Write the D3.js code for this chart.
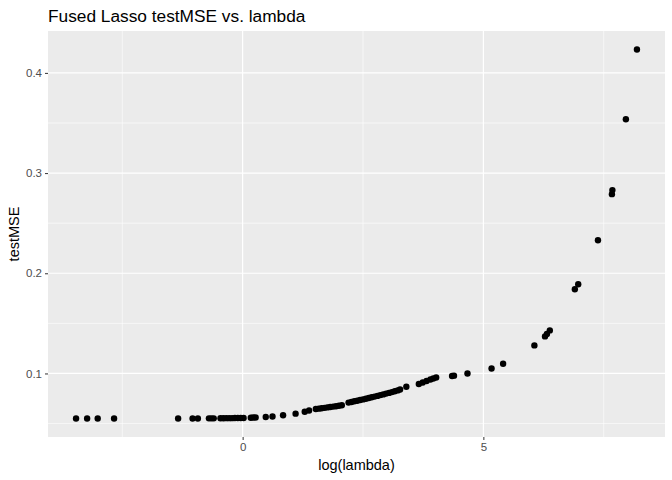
<!DOCTYPE html>
<html>
<head>
<meta charset="utf-8">
<script src="https://cdn.jsdelivr.net/npm/d3@7"></script>
<style>
  body { margin: 0; background: #fff; }
  text { font-family: "Liberation Sans", Arial, Helvetica, sans-serif; }
</style>
</head>
<body>
<svg id="chart" width="672" height="480"></svg>
<script>
// log(lambda) values
const logLambda = [
  -3.46, -3.23, -3.01, -2.67, -1.34, -1.04, -0.93, -0.70, -0.65, -0.60,
  -0.46, -0.40, -0.34, -0.28, -0.22, -0.16, -0.10, -0.04, 0.02, 0.17,
  0.22, 0.27, 0.48, 0.62, 0.84, 1.10, 1.29, 1.38,
  1.52, 1.58, 1.64, 1.70, 1.76, 1.82, 1.88, 1.94, 2.00, 2.06,
  2.20, 2.26, 2.32, 2.38, 2.44, 2.50, 2.56, 2.62, 2.68, 2.74,
  2.80, 2.86, 2.92, 2.98, 3.04, 3.10, 3.16, 3.22, 3.27, 3.40,
  3.66, 3.74, 3.82, 3.90, 3.96, 4.02, 4.35, 4.39, 4.67, 5.17,
  5.41, 6.06, 6.28, 6.32, 6.38, 6.90, 6.97, 7.38, 7.67, 7.68,
  7.96, 8.19
];
// testMSE for each point
const testMSE = [
  0.0550, 0.0550, 0.0550, 0.0550, 0.0550, 0.0551, 0.0551, 0.0552, 0.0552, 0.0552,
  0.0553, 0.0553, 0.0554, 0.0554, 0.0554, 0.0555, 0.0555, 0.0556, 0.0556, 0.0558,
  0.0560, 0.0561, 0.0565, 0.0570, 0.0583, 0.0599, 0.0618, 0.0630,
  0.0645, 0.0649, 0.0653, 0.0657, 0.0661, 0.0665, 0.0669, 0.0673, 0.0678, 0.0683,
  0.0709, 0.0715, 0.0722, 0.0728, 0.0735, 0.0741, 0.0748, 0.0755, 0.0762, 0.0769,
  0.0776, 0.0784, 0.0791, 0.0799, 0.0806, 0.0814, 0.0822, 0.0831, 0.0840, 0.0867,
  0.0895, 0.0910, 0.0925, 0.0940, 0.0950, 0.0960, 0.0975, 0.0978, 0.1000, 0.1050,
  0.1097, 0.1280, 0.1370, 0.1395, 0.1430, 0.1840, 0.1890, 0.2330, 0.2790, 0.2830,
  0.3537, 0.4234
];
const xTicks = [0, 5];
const xMinor = [-2.5, 2.5, 7.5];
const yTicks = [0.1, 0.2, 0.3, 0.4];
const yMinor = [0.05, 0.15, 0.25, 0.35];

const svg = d3.select("#chart");
const panel = { left: 48, top: 31, right: 665, bottom: 437 };

// ggplot style 5% expansion
const xExt = d3.extent(logLambda), yExt = d3.extent(testMSE);
const xPad = (xExt[1] - xExt[0]) * 0.05, yPad = (yExt[1] - yExt[0]) * 0.05;

const x = d3.scaleLinear()
  .domain([xExt[0] - xPad, xExt[1] + xPad])
  .range([panel.left, panel.right]);
const y = d3.scaleLinear()
  .domain([yExt[0] - yPad, yExt[1] + yPad])
  .range([panel.bottom, panel.top]);

// panel background
svg.append("rect")
  .attr("x", panel.left).attr("y", panel.top)
  .attr("width", panel.right - panel.left)
  .attr("height", panel.bottom - panel.top)
  .attr("fill", "#ebebeb");

// grid lines
const grid = svg.append("g").attr("stroke", "#fff");
grid.selectAll(".xmin").data(xMinor).enter().append("line")
  .attr("x1", d => x(d)).attr("x2", d => x(d))
  .attr("y1", panel.top).attr("y2", panel.bottom)
  .attr("stroke-width", 0.6);
grid.selectAll(".ymin").data(yMinor).enter().append("line")
  .attr("x1", panel.left).attr("x2", panel.right)
  .attr("y1", d => y(d)).attr("y2", d => y(d))
  .attr("stroke-width", 0.6);
grid.selectAll(".xmaj").data(xTicks).enter().append("line")
  .attr("x1", d => x(d)).attr("x2", d => x(d))
  .attr("y1", panel.top).attr("y2", panel.bottom)
  .attr("stroke-width", 1.2);
grid.selectAll(".ymaj").data(yTicks).enter().append("line")
  .attr("x1", panel.left).attr("x2", panel.right)
  .attr("y1", d => y(d)).attr("y2", d => y(d))
  .attr("stroke-width", 1.2);

// axes
const xAxis = svg.append("g")
  .attr("transform", `translate(0,${panel.bottom})`)
  .call(d3.axisBottom(x).tickValues(xTicks).tickSize(3).tickPadding(3).tickFormat(d3.format("d")));
const yAxis = svg.append("g")
  .attr("transform", `translate(${panel.left},0)`)
  .call(d3.axisLeft(y).tickValues(yTicks).tickSize(3).tickPadding(3).tickFormat(d3.format(".1f")));

[xAxis, yAxis].forEach(a => {
  a.select(".domain").remove();
  a.selectAll(".tick line").attr("stroke", "#333333").attr("stroke-width", 1);
  a.selectAll(".tick text")
    .attr("fill", "#4d4d4d")
    .style("font-size", "11.5px")
    .style("font-family", '"Liberation Sans", Arial, sans-serif');
});

// points
svg.append("g").selectAll("circle")
  .data(logLambda)
  .enter().append("circle")
  .attr("cx", d => x(d))
  .attr("cy", (d, i) => y(testMSE[i]))
  .attr("r", 3.2)
  .attr("fill", "#000");

// title and axis titles
svg.append("text")
  .attr("x", 48).attr("y", 21.5)
  .style("font-size", "17.3px")
  .attr("fill", "#000")
  .text("Fused Lasso testMSE vs. lambda");

svg.append("text")
  .attr("x", (panel.left + panel.right) / 2).attr("y", 470)
  .attr("text-anchor", "middle")
  .style("font-size", "14.5px")
  .text("log(lambda)");

svg.append("text")
  .attr("transform", `translate(19,${(panel.top + panel.bottom) / 2}) rotate(-90)`)
  .attr("text-anchor", "middle")
  .style("font-size", "14.5px")
  .text("testMSE");
</script>
</body>
</html>
